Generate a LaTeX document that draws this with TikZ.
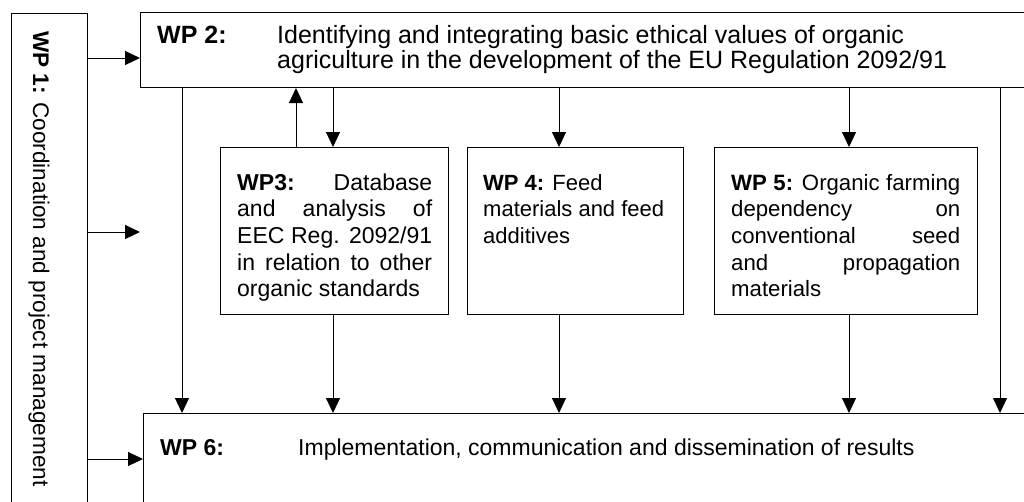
\documentclass[tikz,border=0pt]{standalone}
\usepackage{fontspec}
\setmainfont{Liberation Sans}
\usetikzlibrary{arrows.meta}
\newcommand{\fWPone}{\fontsize{22.6}{26}\selectfont}
\newcommand{\fWPtwo}{\fontsize{25}{29}\selectfont}
\newcommand{\fWPbox}{\fontsize{23}{26.7}\selectfont}
\newcommand{\fWPfour}{\fontsize{22}{26.7}\selectfont}
\newcommand{\fWPfive}{\fontsize{22.2}{26.7}\selectfont}
\begin{document}
\begin{tikzpicture}[x=1pt,y=-1pt,
  box/.style={draw, line width=1pt, inner sep=0pt, anchor=north west},
  arr/.style={line width=1pt, -{Triangle[length=15pt,width=14pt]}},
  txt/.style={anchor=base west, inner sep=0pt}]
\useasboundingbox (0,0) rectangle (1024,501);
\clip (0,0) rectangle (1024,501);
\fill[white] (0,0) rectangle (1024,501);

% boxes
\node[box, minimum width=76pt, minimum height=520pt] (wp1) at (11,13) {};
\node[box, minimum width=900pt, minimum height=75pt] (wp2) at (140,12) {};
\node[box, minimum width=228pt, minimum height=167pt] (wp3) at (219.5,147) {};
\node[box, minimum width=216pt, minimum height=167pt] (wp4) at (467,147) {};
\node[box, minimum width=263pt, minimum height=167pt] (wp5) at (714,147) {};
\node[box, minimum width=900pt, minimum height=120pt] (wp6) at (143,413) {};

% helper coordinates
\coordinate (h58) at (0,58);
\coordinate (h232) at (0,232);
\coordinate (h459) at (0,459);
\coordinate (free) at (140,232);
\coordinate (a182) at (182,0);
\coordinate (a296) at (296,0);
\coordinate (a333) at (333,0);
\coordinate (a559) at (559,0);
\coordinate (a849) at (849,0);
\coordinate (a1000) at (1000,0);

% connectors
\draw[arr] (wp1.east |- h58) -- (wp2.west |- h58);
\draw[arr] (wp1.east |- h232) -- (free);
\draw[arr] (wp1.east |- h459) -- (wp6.west |- h459);
\draw[arr] (wp2.south -| a182) -- (wp6.north -| a182);
\draw[arr] (wp3.north -| a296) -- (wp2.south -| a296);
\draw[arr] (wp2.south -| a333) -- (wp3.north -| a333);
\draw[arr] (wp2.south -| a559) -- (wp4.north -| a559);
\draw[arr] (wp2.south -| a849) -- (wp5.north -| a849);
\draw[arr] (wp2.south -| a1000) -- (wp6.north -| a1000);
\draw[arr] (wp3.south -| a333) -- (wp6.north -| a333);
\draw[arr] (wp4.south -| a559) -- (wp6.north -| a559);
\draw[arr] (wp5.south -| a849) -- (wp6.north -| a849);

% WP1 text
\node[txt, rotate=-90] (t1) at (33,31) {\fWPone\textbf{WP 1:} Coordination and project management};

% WP2 text
\node[txt] (t2a) at (157,43) {\fWPtwo\textbf{WP 2:}};
\node[txt] (t2b) at (277,43) {\fWPtwo Identifying and integrating basic ethical values of organic};
\node[txt] (t2c) at (277,68.5) {\fWPtwo agriculture in the development of the EU Regulation 2092/91};

% WP3 text
\node[txt] (t3a) at (237,190) {\fWPbox\makebox[195pt][s]{\textbf{WP3:} Database}};
\node[txt] (t3b) at (237,216.7) {\fWPbox\makebox[195pt][s]{and analysis of}};
\node[txt] (t3c) at (237,243.4) {\fWPbox\makebox[195pt][s]{EEC Reg. 2092/91}};
\node[txt] (t3d) at (237,270.1) {\fWPbox\makebox[195pt][s]{in relation to other}};
\node[txt] (t3e) at (237,296.8) {\fWPbox organic standards};

% WP4 text
\node[txt] (t4a) at (483,190) {\fWPfour\textbf{WP 4:} Feed};
\node[txt] (t4b) at (483,216.7) {\fWPfour materials and feed};
\node[txt] (t4c) at (483,243.4) {\fWPfour additives};

% WP5 text
\node[txt] (t5a) at (731,190) {\fWPfive\makebox[229pt][s]{\textbf{WP 5:} Organic farming}};
\node[txt] (t5b) at (731,216.7) {\fWPfive\makebox[229pt][s]{dependency on}};
\node[txt] (t5c) at (731,243.4) {\fWPfive\makebox[229pt][s]{conventional seed}};
\node[txt] (t5d) at (731,270.1) {\fWPfive\makebox[229pt][s]{and propagation}};
\node[txt] (t5e) at (731,296.8) {\fWPfive materials};

% WP6 text
\node[txt] (t6a) at (160,455) {\fWPbox\textbf{WP 6:}};
\node[txt] (t6b) at (298,455) {\fWPbox Implementation, communication and dissemination of results};
\end{tikzpicture}
\end{document}
